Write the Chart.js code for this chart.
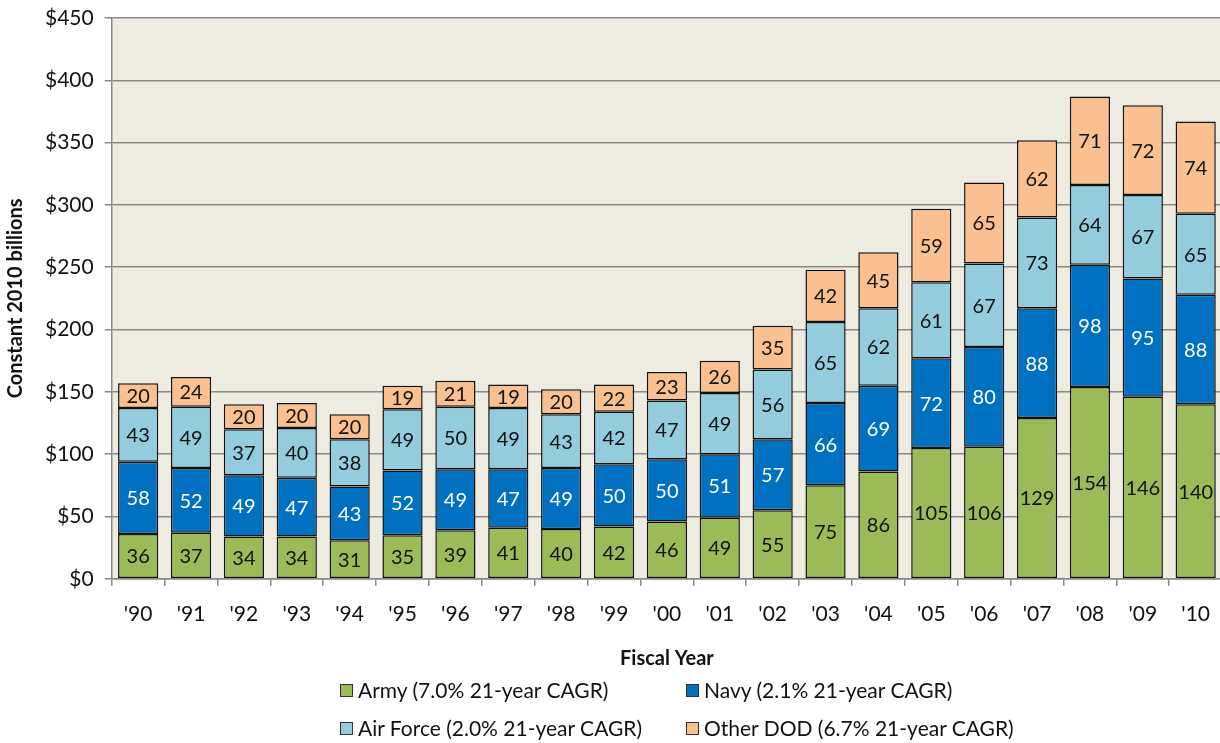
<!DOCTYPE html>
<html>
<head>
<meta charset="utf-8">
<script src="https://cdn.jsdelivr.net/npm/chart.js@4"></script>
<style>
  html, body { margin: 0; padding: 0; background: #fff; overflow: hidden; }
  #wrap { position: relative; width: 1220px; height: 743px; overflow: hidden; }
  #chart { position: absolute; left: 0; top: 0; }
  #legend { position: absolute; left: 340px; top: 677px; width: 720px;
    display: grid; grid-template-columns: 346px 374px; row-gap: 12px;
    font-family: Lato, "Open Sans", sans-serif; font-size: 21px; color: #111; line-height: 26px; }
  #legend span.box { display: inline-block; width: 11px; height: 11px; border: 1.5px solid #333;
    margin-right: 5px; vertical-align: 1px; }
</style>
</head>
<body>
<div id="wrap">
  <canvas id="chart" width="1226" height="743"></canvas>
  <div id="legend"></div>
</div>
<script>
// fiscal years on the x axis
const years = ["'90","'91","'92","'93","'94","'95","'96","'97","'98","'99","'00","'01","'02","'03","'04","'05","'06","'07","'08","'09","'10"];

// spending by service, constant 2010 $ billions
const army     = [36,37,34,34,31,35,39,41,40,42,46,49,55,75,86,105,106,129,154,146,140];
const navy     = [58,52,49,47,43,52,49,47,49,50,50,51,57,66,69,72,80,88,98,95,88];
const airForce = [43,49,37,40,38,49,50,49,43,42,47,49,56,65,62,61,67,73,64,67,65];
const otherDod = [20,24,20,20,20,19,21,19,20,22,23,26,35,42,45,59,65,62,71,72,74];

const seriesNames = ['Army (7.0% 21-year CAGR)','Navy (2.1% 21-year CAGR)','Air Force (2.0% 21-year CAGR)','Other DOD (6.7% 21-year CAGR)'];
const colors = ['#9BBB59','#0070C0','#93CDDD','#FAC090'];
const labelColors = ['#111','#fff','#111','#111'];

const fontFam = 'Lato, "Open Sans", sans-serif';

// paints plot background
const bgPlugin = {
  id: 'plotBg',
  beforeDraw(chart) {
    const a = chart.chartArea, c = chart.ctx;
    c.save(); c.fillStyle = '#EEECE1';
    c.fillRect(a.left, a.top, a.right - a.left, a.bottom - a.top);
    c.restore();
  }
};

// writes the value in the middle of each segment
const valuePlugin = {
  id: 'values',
  afterDatasetsDraw(chart) {
    const c = chart.ctx;
    c.save();
    c.font = '20px ' + fontFam;
    c.textAlign = 'center'; c.textBaseline = 'middle';
    chart.data.datasets.forEach((ds, i) => {
      chart.getDatasetMeta(i).data.forEach((bar, j) => {
        c.fillStyle = labelColors[i];
        c.fillText(ds.data[j], bar.x, (bar.y + bar.base) / 2 + 1);
      });
    });
    c.restore();
  }
};

const series = [army, navy, airForce, otherDod];
const chart = new Chart(document.getElementById('chart'), {
  type: 'bar',
  data: {
    labels: years,
    datasets: series.map((d, i) => ({
      label: seriesNames[i], data: d, backgroundColor: colors[i],
      borderColor: '#111', borderWidth: 1.5, borderSkipped: false,
      categoryPercentage: 1, barPercentage: 0.76
    }))
  },
  options: {
    responsive: false, animation: false,
    layout: { padding: { left: 0, right: 0, top: 18, bottom: 68 } },
    plugins: { legend: { display: false }, tooltip: { enabled: false } },
    scales: {
      x: {
        stacked: true,
        grid: { offset: true, drawOnChartArea: false, color: '#888', tickLength: 7, lineWidth: 1.5 },
        border: { color: '#888', width: 1.5 },
        ticks: { color: '#111', font: { family: fontFam, size: 21 }, padding: 16, maxRotation: 0 },
        title: { display: true, text: 'Fiscal Year', color: '#111', font: { family: fontFam, size: 20, weight: 'bold' }, padding: { top: 4 } }
      },
      y: {
        stacked: true, min: 0, max: 450,
        grid: { color: '#888', lineWidth: 1.5, tickLength: 7 },
        border: { color: '#888', width: 1.5 },
        ticks: { stepSize: 50, color: '#111', font: { family: fontFam, size: 21, lineHeight: 0.6 }, padding: 11, callback: v => '$' + v },
        title: { display: true, text: 'Constant 2010 billions', color: '#111', font: { family: fontFam, size: 20, weight: 'bold' }, padding: { bottom: 6 } }
      }
    }
  },
  plugins: [bgPlugin, valuePlugin]
});

// html legend in two columns
const leg = document.getElementById('legend');
chart.data.datasets.forEach(ds => {
  const d = document.createElement('div');
  d.innerHTML = '<span class="box" style="background:' + ds.backgroundColor + '"></span>' + ds.label;
  leg.appendChild(d);
});
</script>
</body>
</html>
